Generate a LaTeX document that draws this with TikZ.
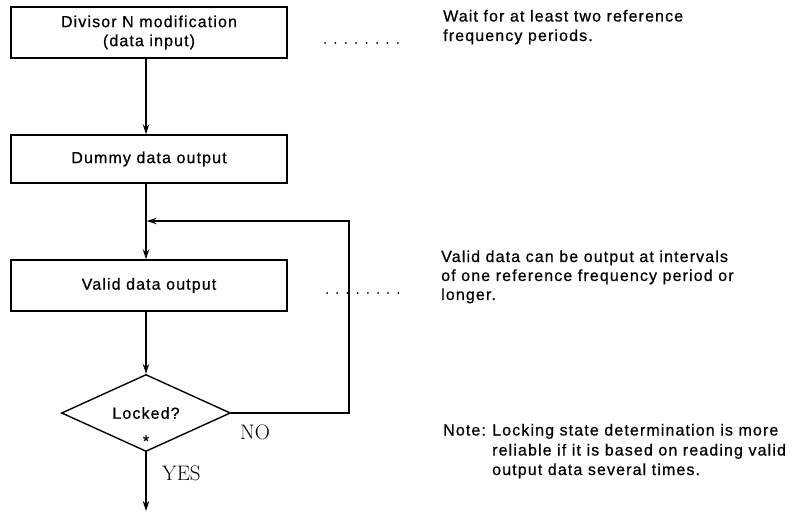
\documentclass[tikz,border=0pt]{standalone}
\usepackage{fontspec}
\usetikzlibrary{shapes.geometric,arrows.meta}
\newfontfamily\labfont{Liberation Sans}[LetterSpace=7,FakeBold=0.6]
\tikzset{
  every picture/.style={x=1pt,y=-1pt},
  stepbox/.style={draw,line width=1.4pt,minimum width=276pt,inner sep=0pt,align=center,
    font=\labfont\fontsize{16}{19}\selectfont},
  decide/.style={diamond,draw,line width=1.4pt,minimum width=169pt,minimum height=77pt,aspect=2.2,inner sep=0pt,
    font=\labfont\fontsize{16}{19}\selectfont},
  arr/.style={line width=1.4pt,-{Stealth[length=10pt,width=6.5pt]}},
  conn/.style={line width=1.4pt},
  rtext/.style={anchor=base west,inner sep=0pt,font=\labfont\fontsize{16}{19}\selectfont},
  yn/.style={anchor=base west,inner sep=0pt,font=\fontsize{21}{25}\selectfont},
}
\begin{document}
\begin{tikzpicture}
\useasboundingbox (0,0) rectangle (801,513);
% boxes
\node[stepbox,minimum height=51pt] (b1) at (149,32.5) {Divisor N modification\\(data input)};
\node[stepbox,minimum height=48pt] (b2) at (149,159) {Dummy data output};
\node[stepbox,minimum height=51pt] (b3) at (149,285.5) {Valid data output};
\node[decide] (d) at (146,413) {Locked?};
\node[inner sep=0pt,font=\labfont\fontsize{16}{16}\selectfont] (star) at (146,441) {*};
\coordinate (cr) at (349,221);
\coordinate (endp) at (146,511);
% connectors
\draw[arr] (b1.south -| d.north) -- (b2.north -| d.north);
\draw[conn] (b2.south -| d.north) -- (cr -| d.north);
\draw[arr] (cr -| d.north) -- (b3.north -| d.north);
\draw[arr] (b3.south -| d.north) -- (d.north);
\draw[arr] (d.east) -| (cr) -- ([xshift=0.7pt]cr -| d.north);
\draw[arr] (d.south) -- (endp);
% labels
\node[yn] (no) at (240,439) {NO};
\node[yn] (yes) at (162,480) {YES};
% dotted leaders
\foreach \i in {0,...,7} \fill (325+\i*10.4,43) circle (1pt);
\foreach \i in {0,...,7} \fill (327+\i*10.2,293) circle (1pt);
% right texts
\node[rtext] (t1a) at (443,21.5) {Wait for at least two reference};
\node[rtext] (t1b) at (443,41) {frequency periods.};
\node[rtext] (t2a) at (441,262) {Valid data can be output at intervals};
\node[rtext] (t2b) at (441,281) {of one reference frequency period or};
\node[rtext] (t2c) at (441,300) {longer.};
\node[rtext] (t3n) at (443,435.5) {Note:};
\node[rtext] (t3a) at (492,435.5) {Locking state determination is more};
\node[rtext] (t3b) at (492,455.5) {reliable if it is based on reading valid};
\node[rtext] (t3c) at (492,475) {output data several times.};
\end{tikzpicture}
\end{document}
